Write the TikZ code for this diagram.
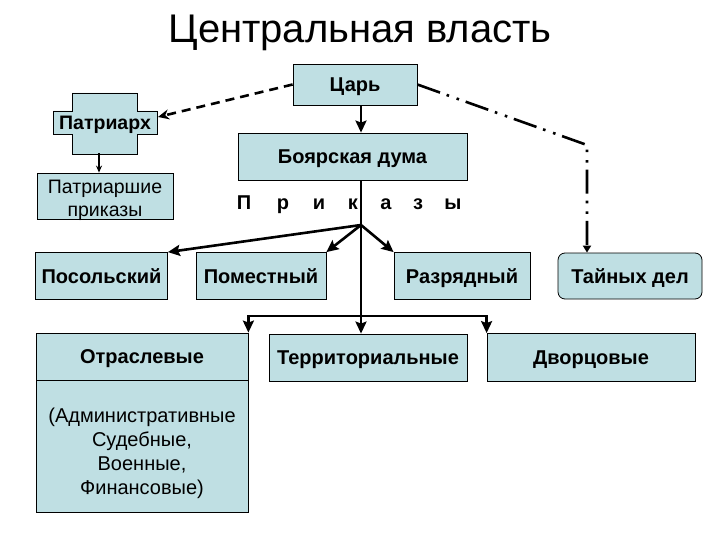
\documentclass[tikz,border=0pt]{standalone}
\usepackage{fontspec}
\setmainfont{Liberation Sans}
\usetikzlibrary{arrows.meta}
\definecolor{boxfill}{RGB}{191,223,227}
\tikzset{
  box/.style={draw=black, line width=0.8pt, fill=boxfill, inner sep=0pt, align=center, text height=14pt, text depth=0pt, font=\bfseries\fontsize{20}{25}\selectfont},
  conn/.style={line width=2.6pt, -{Stealth[length=12pt,width=11pt,inset=2pt]}},
  thinconn/.style={line width=1.6pt, -{Stealth[length=7pt,width=6pt]}},
  letter/.style={font=\bfseries\fontsize{20}{24}\selectfont, inner sep=0pt, anchor=base},
}
\begin{document}
\begin{tikzpicture}[x=1pt,y=-1pt]
\useasboundingbox (0,0) rectangle (720,540);
% title
\node[font=\fontsize{40}{46}\selectfont, anchor=base, inner sep=0pt] (title) at (360,43) {Центральная власть};
% Tsar
\node[box, minimum width=124pt, minimum height=41pt] (tsar) at (355,84.5) {Царь};
% Patriarch cross
\draw[fill=boxfill, line width=0.8pt] (72,93) -- (137,93) -- (137,111) -- (157,111) -- (157,134) -- (137,134) -- (137,154) -- (72,154) -- (72,134) -- (53,134) -- (53,111) -- (72,111) -- cycle;
\node[font=\bfseries\fontsize{19.5}{22}\selectfont, text height=14pt, text depth=0pt, minimum width=104pt, minimum height=61pt, inner sep=0pt] (patr) at (105,122.5) {Патриарх};
% Patriarchal prikazy
\node[box, font=\fontsize{19.5}{22}\selectfont, text height=40pt, text depth=0pt, minimum width=136pt, minimum height=46pt] (ppr) at (105,196) {Патриаршие\\приказы};
% Boyar duma
\node[box, minimum width=229pt, minimum height=47pt] (duma) at (352.5,156.5) {Боярская дума};
% letters
\node[letter] (l1) at (244,210) {П};
\node[letter] (l2) at (283,210) {р};
\node[letter] (l3) at (319,210) {и};
\node[letter] (l4) at (353,210) {к};
\node[letter] (l5) at (386,210) {а};
\node[letter] (l6) at (418,210) {з};
\node[letter] (l7) at (453,210) {ы};
% second row
\node[box, minimum width=132pt, minimum height=47pt] (pos) at (101.5,276) {Посольский};
\node[box, minimum width=130pt, minimum height=47pt] (pom) at (261,276) {Поместный};
\node[box, minimum width=136pt, minimum height=47pt] (raz) at (462,276) {Разрядный};
\node[box, rounded corners=7pt, minimum width=144pt, minimum height=46pt] (tai) at (630,276) {Тайных дел};
% third row
\node[box, minimum width=212pt, minimum height=47pt] (otr) at (142,356.5) {Отраслевые};
\node[box, font=\fontsize{20}{24}\selectfont, text height=96pt, text depth=0pt, minimum width=212pt, minimum height=132pt] (adm) at (142,446) {(Административные\\Судебные,\\Военные,\\Финансовые)};
\node[box, minimum width=198pt, minimum height=47pt] (ter) at (368,357.5) {Территориальные};
\node[box, minimum width=208pt, minimum height=48pt] (dvo) at (591,357.5) {Дворцовые};
% coordinates
\coordinate (br) at (361,225);
\coordinate (jn) at (361,316);
\coordinate (cn) at (587,145);
\coordinate (pt) at (158,117);
% connectors
\draw[conn] (tsar.south -| br) -- (duma.north -| br);
\draw[line width=2.6pt] (duma.south -| br) -- (jn);
\draw[conn] (br) -- (pos.north east);
\draw[conn] (br) -- (pom.north east);
\draw[conn] (br) -- (raz.north west);
\draw[conn] (jn) -| (otr.north east);
\draw[conn] (jn) -- (ter.north -| jn);
\draw[conn] (jn) -| (dvo.north west);
\draw[thinconn] (patr.south -| 99,0) -- (ppr.north -| 99,0);
\draw[line width=2.6pt, dash pattern=on 9pt off 6pt, -{Stealth[length=11pt,width=10pt]}] (tsar.west) -- (pt);
\draw[line width=2.6pt, dash pattern=on 24pt off 7pt on 2.6pt off 8pt on 2.6pt off 7pt, -{Triangle[length=7pt,width=8pt]}] (tsar.east) -- (cn) -- (cn |- tai.north);
\end{tikzpicture}
\end{document}
